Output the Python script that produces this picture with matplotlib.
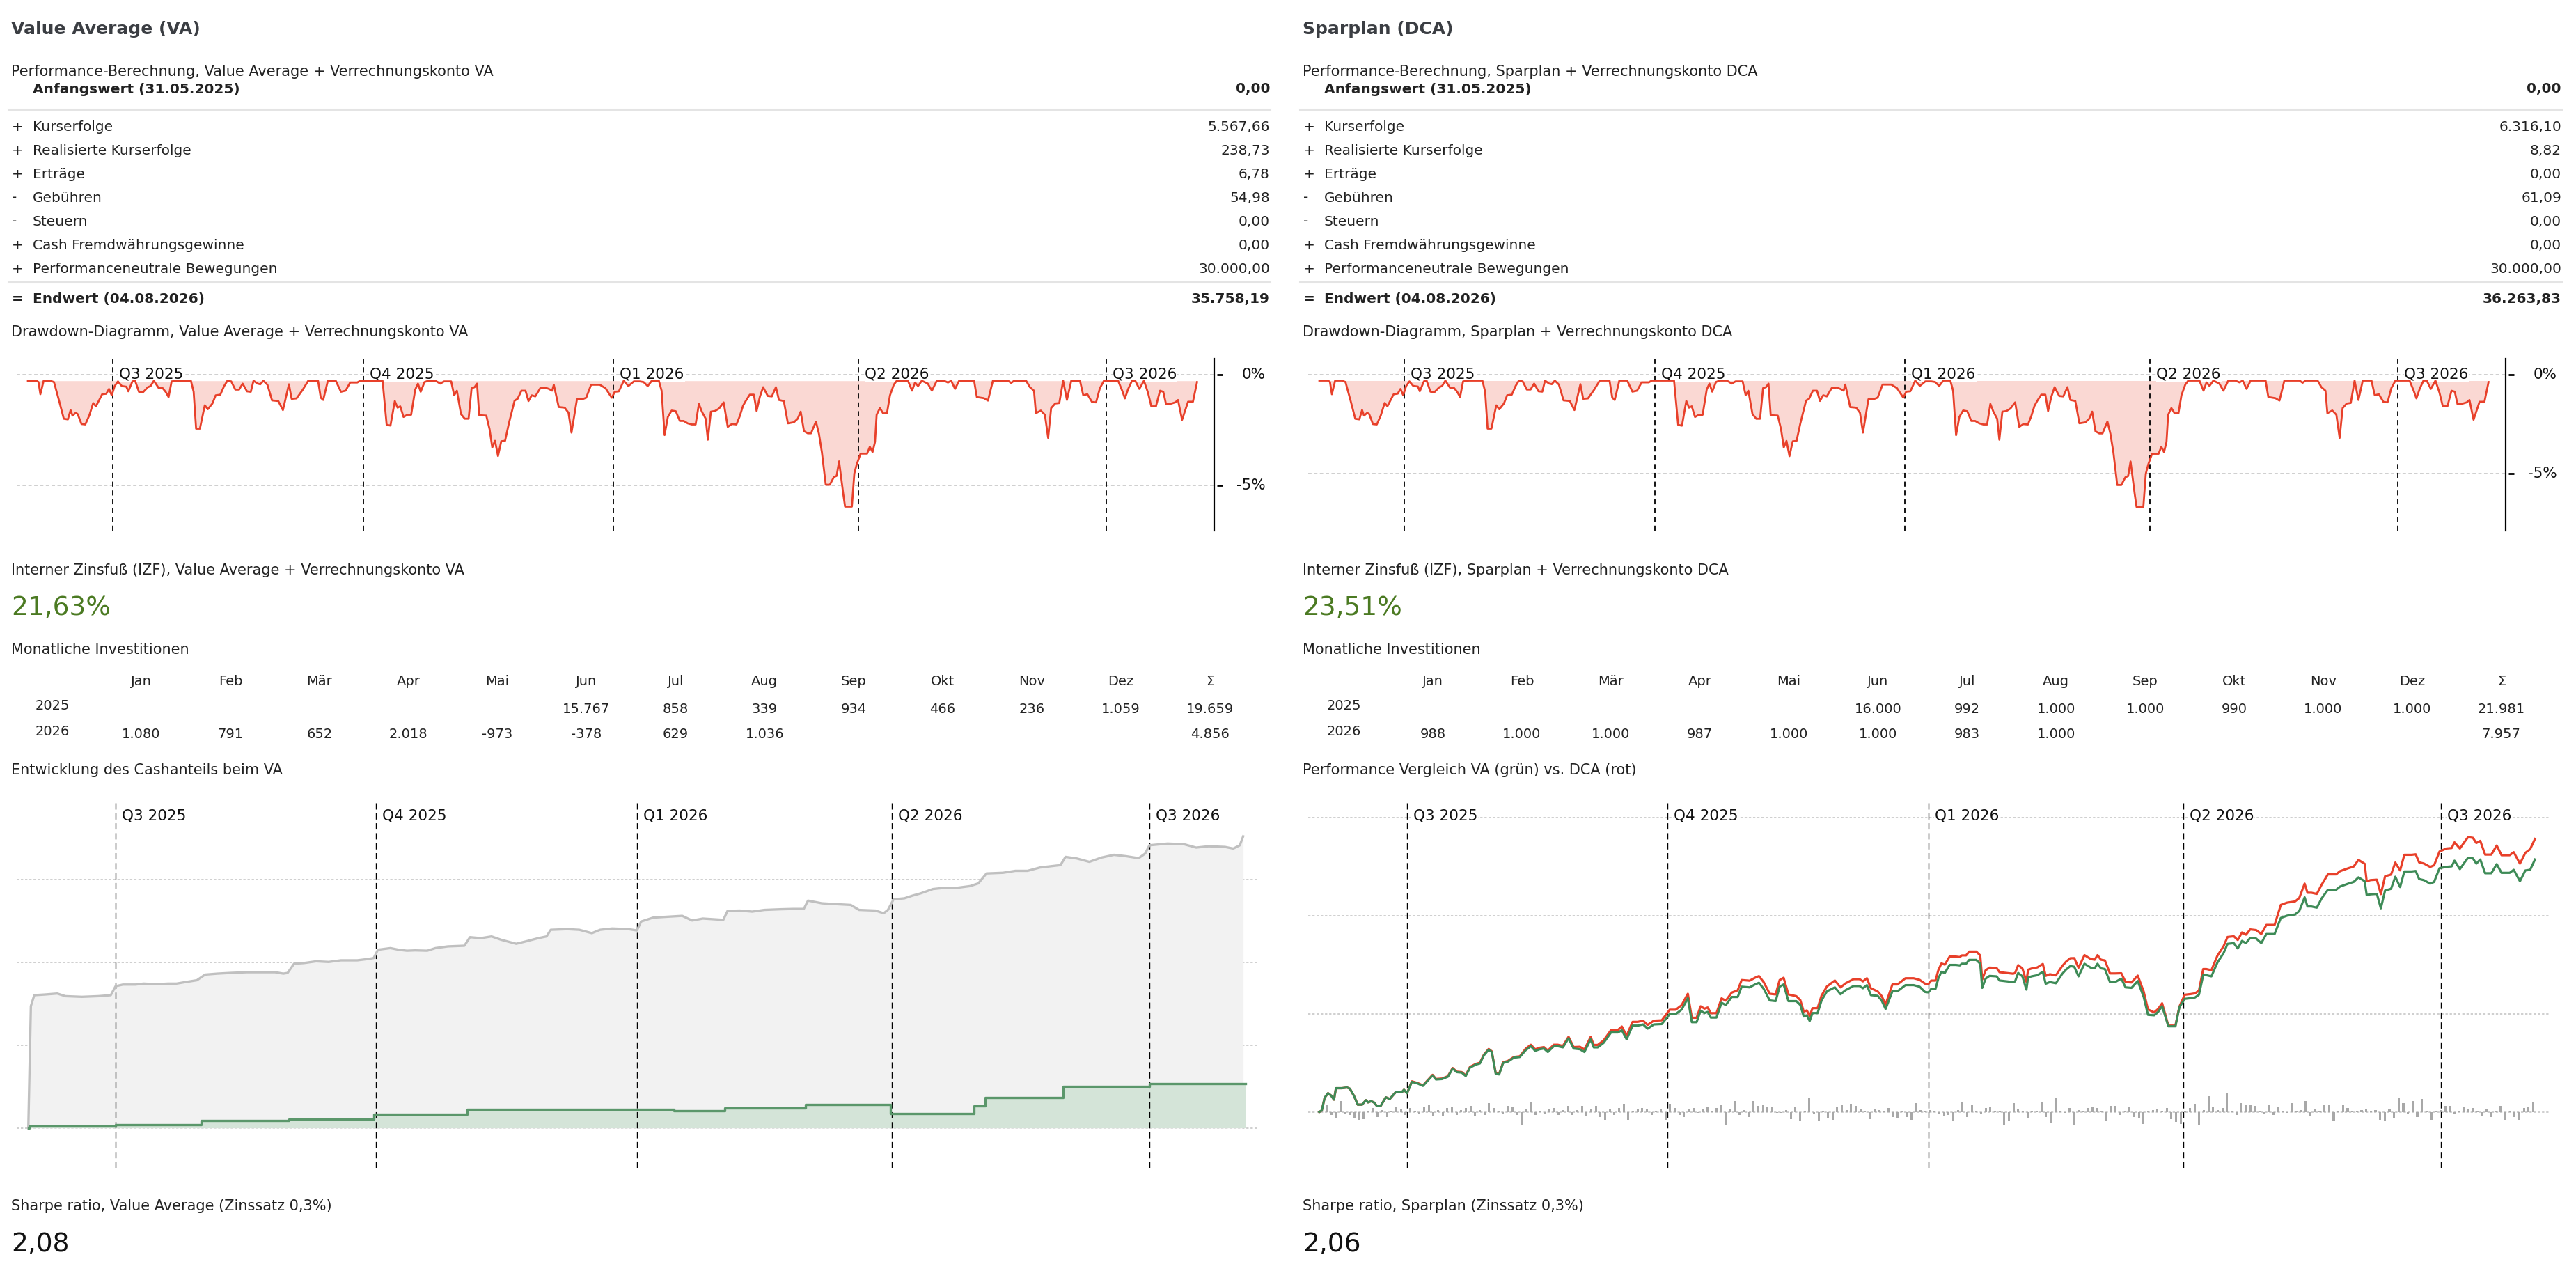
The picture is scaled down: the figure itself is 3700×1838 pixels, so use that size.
import matplotlib
matplotlib.use("Agg")
import matplotlib.pyplot as plt
import matplotlib.dates as mdates
import numpy as np
import pandas as pd

plt.rcParams["font.family"] = ["DejaVu Sans"]

# ---------------- data ----------------
ref_day = pd.Timestamp("2025-07-01")   # day offsets below count from here
quarters = ["2025-07-01", "2025-10-01", "2026-01-01", "2026-04-01", "2026-07-01"]
quarter_labels = ["Q3 2025", "Q4 2025", "Q1 2026", "Q2 2026", "Q3 2026"]

row_labels = ["Kurserfolge", "Realisierte Kurserfolge", "Erträge", "Gebühren", "Steuern",
              "Cash Fremdwährungsgewinne", "Performanceneutrale Bewegungen"]
row_signs = ["+", "+", "+", "-", "-", "+", "+"]
va_rows = ["5.567,66", "238,73", "6,78", "54,98", "0,00", "0,00", "30.000,00"]
dca_rows = ["6.316,10", "8,82", "0,00", "61,09", "0,00", "0,00", "30.000,00"]
va_start, va_end = "0,00", "35.758,19"
dca_start, dca_end = "0,00", "36.263,83"
va_irr, dca_irr = "21,63%", "23,51%"
va_sharpe, dca_sharpe = "2,08", "2,06"

months = ["Jan", "Feb", "Mär", "Apr", "Mai", "Jun", "Jul", "Aug", "Sep", "Okt", "Nov", "Dez", "Σ"]
years = ["2025", "2026"]
va_invest = [["", "", "", "", "", "15.767", "858", "339", "934", "466", "236", "1.059", "19.659"],
             ["1.080", "791", "652", "2.018", "-973", "-378", "629", "1.036", "", "", "", "", "4.856"]]
dca_invest = [["", "", "", "", "", "16.000", "992", "1.000", "1.000", "990", "1.000", "1.000", "21.981"],
              ["988", "1.000", "1.000", "987", "1.000", "1.000", "983", "1.000", "", "", "", "", "7.957"]]

# drawdown (%), both portfolios on the same days
dd_days = [-31.2, -28.0, -27.3, -26.6, -25.4, -23.0, -21.6, -19.7, -18.0, -16.5,
           -15.5, -14.8, -13.6, -12.9, -11.5, -10.1, -8.6, -7.2, -6.2, -5.0,
           -3.9, -2.4, -1.4, -0.4, 0.7, 1.9, 3.3, 5.0, 5.7, 7.2,
           8.2, 9.6, 11.1, 12.9, 13.9, 15.1, 16.8, 18.2, 19.4, 20.5,
           21.6, 23.7, 28.7, 29.7, 30.6, 32.0, 33.8, 34.9, 36.6, 37.8,
           39.5, 40.9, 42.1, 43.5, 45.0, 46.4, 47.7, 49.3, 50.7, 51.7,
           53.2, 54.2, 55.3, 56.8, 58.5, 60.8, 62.5, 64.7, 65.7, 67.5,
           69.7, 71.8, 75.4, 76.4, 77.3, 79.0, 81.9, 83.8, 85.5, 87.2,
           89.8, 90.9, 99.1, 100.6, 102.0, 103.6, 104.6, 105.6, 106.8, 108.2,
           109.6, 111.1, 112.1, 113.1, 114.5, 115.9, 118.5, 120.3, 121.7, 124.3,
           125.4, 126.4, 127.9, 129.3, 130.7, 131.8, 132.9, 133.8, 134.6, 137.2,
           138.4, 139.4, 140.4, 141.5, 142.7, 144.1, 145.5, 147.6, 148.7, 150.1,
           151.6, 152.7, 153.9, 155.2, 157.0, 158.8, 160.2, 161.4, 162.0, 163.8,
           166.0, 167.4, 168.5, 170.5, 172.4, 173.9, 175.7, 178.9, 181.0,
           183.3, 184.4, 185.9, 187.7, 189.4, 191.4, 193.6, 195.0, 196.5, 198.0,
           200.6, 201.6, 202.7, 203.9, 205.3, 206.8, 208.3, 209.7, 211.2, 212.7,
           214.1, 215.3, 216.4, 217.8, 218.6, 219.7, 221.2, 222.7, 224.4, 225.9,
           227.4, 229.1, 230.3, 231.5, 232.5, 234.0, 235.5, 236.5, 237.7, 238.9,
           240.6, 242.1, 243.6, 244.7, 246.5, 248.0, 250.2, 251.6, 252.7, 253.9,
           255.3, 256.5, 258.3, 259.4, 260.5, 261.9, 263.4, 264.9, 265.9, 266.8,
           268.3, 269.0, 271.5, 272.4, 273.3, 274.7, 277.1, 278.1, 279.1, 280.0,
           280.6, 281.8, 283.0, 284.4, 285.5, 286.9, 288.0, 292.1, 293.6, 294.7,
           295.8, 297.2, 299.4, 300.9, 302.7, 305.3, 306.8, 308.0, 309.4, 310.9,
           316.4, 317.4, 320.0, 321.5, 323.3, 328.9, 330.0, 331.1, 335.5, 336.9,
           338.4, 339.1, 340.9, 342.4, 343.6, 344.7, 346.2, 347.7, 349.1, 350.5,
           352.1, 355.3, 356.5, 358.0, 359.7, 361.2, 362.6, 364.1, 369.3, 370.8,
           371.8, 373.0, 374.4, 375.6, 377.1, 378.8, 380.3, 381.5, 383.2, 384.7,
           385.9, 386.9, 388.4, 390.3, 391.3, 392.8, 395.0, 396.8, 398.3]
va_drawdown = [-0.27, -0.27, -0.33, -0.88, -0.27, -0.27, -0.33, -1.19, -1.99, -2.02,
               -1.60, -1.85, -1.72, -1.78, -2.23, -2.25, -1.83, -1.28, -1.43, -1.14,
               -0.88, -0.86, -0.64, -0.93, -0.51, -0.30, -0.51, -0.54, -0.75, -0.30,
               -0.27, -0.77, -0.79, -0.56, -0.51, -0.27, -0.59, -0.59, -0.77, -1.01,
               -0.30, -0.27, -0.27, -0.77, -2.44, -2.44, -1.38, -1.56, -1.30, -0.93,
               -0.90, -0.51, -0.27, -0.30, -0.67, -0.67, -0.40, -0.75, -0.77, -0.27,
               -0.40, -0.43, -0.27, -0.45, -1.16, -1.19, -1.60, -0.43, -1.09, -1.07,
               -0.69, -0.27, -0.27, -1.04, -1.14, -0.27, -0.27, -0.77, -0.72, -0.35,
               -0.35, -0.27, -0.27, -2.27, -2.30, -1.19, -1.49, -1.43, -1.91, -1.81,
               -1.81, -0.67, -0.40, -0.77, -0.33, -0.27, -0.27, -0.40, -0.30, -0.30,
               -0.93, -0.72, -1.78, -1.99, -1.99, -0.61, -0.56, -0.40, -1.83, -1.85,
               -2.46, -3.29, -2.99, -3.68, -3.01, -2.99, -2.20, -1.17, -1.09, -0.72,
               -0.72, -1.19, -0.93, -0.98, -0.61, -0.58, -0.64, -0.72, -0.45, -1.46,
               -1.49, -1.72, -2.62, -1.11, -1.11, -1.04, -0.45, -0.45, -0.61,
               -1.04, -0.77, -0.75, -0.27, -0.51, -0.30, -0.30, -0.33, -0.51, -0.27,
               -0.27, -0.72, -2.73, -1.91, -1.62, -1.65, -2.09, -2.09, -2.20, -2.25,
               -2.25, -1.32, -1.67, -1.99, -2.94, -1.67, -1.64, -1.53, -1.25, -2.36,
               -2.23, -2.25, -1.88, -1.41, -1.19, -0.90, -0.90, -1.64, -1.00, -0.56,
               -0.96, -0.98, -0.56, -1.14, -1.19, -2.20, -2.15, -1.99, -1.67, -2.55,
               -2.65, -2.65, -2.12, -2.67, -3.52, -4.98, -4.98, -4.63, -4.58, -3.92,
               -5.37, -5.97, -5.97, -4.47, -4.05, -3.57, -3.57, -3.26, -3.50, -3.04,
               -1.81, -1.51, -1.75, -1.74, -0.93, -0.45, -0.27, -0.27, -0.72, -0.35,
               -0.51, -0.27, -0.40, -0.72, -0.27, -0.27, -0.35, -0.27, -0.64, -0.27,
               -0.27, -1.01, -1.06, -1.17, -0.27, -0.27, -0.37, -0.27, -0.27, -0.56,
               -0.72, -1.74, -1.62, -1.81, -2.86, -1.51, -1.30, -1.28, -0.27, -1.14,
               -0.27, -0.27, -0.93, -0.88, -1.23, -1.25, -0.61, -0.27, -0.27, -0.72,
               -1.07, -0.64, -0.27, -0.27, -0.64, -0.27, -0.82, -1.43, -1.43, -0.72,
               -0.77, -1.33, -1.32, -1.25, -1.14, -2.04, -1.22, -1.22, -0.33]
dca_drawdown = [-0.30, -0.30, -0.37, -0.99, -0.30, -0.30, -0.37, -1.33, -2.23, -2.26,
                -1.79, -2.07, -1.93, -1.99, -2.50, -2.52, -2.05, -1.43, -1.60, -1.28,
                -0.99, -0.96, -0.72, -1.04, -0.57, -0.34, -0.57, -0.60, -0.84, -0.34,
                -0.30, -0.86, -0.88, -0.63, -0.57, -0.30, -0.66, -0.66, -0.86, -1.13,
                -0.34, -0.30, -0.30, -0.86, -2.73, -2.73, -1.55, -1.75, -1.46, -1.04,
                -1.01, -0.57, -0.30, -0.34, -0.75, -0.75, -0.45, -0.84, -0.86, -0.30,
                -0.45, -0.48, -0.30, -0.50, -1.30, -1.33, -1.79, -0.48, -1.22, -1.20,
                -0.77, -0.30, -0.30, -1.16, -1.28, -0.30, -0.30, -0.86, -0.81, -0.39,
                -0.39, -0.30, -0.30, -2.54, -2.58, -1.33, -1.67, -1.60, -2.14, -2.03,
                -2.03, -0.75, -0.45, -0.86, -0.37, -0.30, -0.30, -0.45, -0.34, -0.34,
                -1.04, -0.81, -1.99, -2.23, -2.23, -0.68, -0.63, -0.45, -2.05, -2.07,
                -2.76, -3.68, -3.35, -4.12, -3.37, -3.35, -2.46, -1.31, -1.22, -0.81,
                -0.81, -1.33, -1.04, -1.10, -0.68, -0.65, -0.72, -0.81, -0.50, -1.64,
                -1.67, -1.93, -2.93, -1.24, -1.24, -1.16, -0.50, -0.50, -0.68,
                -1.16, -0.86, -0.84, -0.30, -0.57, -0.34, -0.34, -0.37, -0.57, -0.30,
                -0.30, -0.81, -3.06, -2.14, -1.81, -1.85, -2.34, -2.34, -2.46, -2.52,
                -2.52, -1.48, -1.87, -2.23, -3.29, -1.87, -1.84, -1.71, -1.40, -2.64,
                -2.50, -2.52, -2.11, -1.58, -1.33, -1.01, -1.01, -1.84, -1.12, -0.63,
                -1.08, -1.10, -0.63, -1.28, -1.33, -2.46, -2.41, -2.23, -1.87, -2.86,
                -2.97, -2.97, -2.37, -2.99, -3.94, -5.58, -5.58, -5.19, -5.13, -4.39,
                -6.01, -6.69, -6.69, -5.01, -4.54, -4.00, -4.00, -3.65, -3.92, -3.40,
                -2.03, -1.69, -1.96, -1.95, -1.04, -0.50, -0.30, -0.30, -0.81, -0.39,
                -0.57, -0.30, -0.45, -0.81, -0.30, -0.30, -0.39, -0.30, -0.72, -0.30,
                -0.30, -1.13, -1.19, -1.31, -0.30, -0.30, -0.41, -0.30, -0.30, -0.63,
                -0.81, -1.95, -1.81, -2.03, -3.20, -1.69, -1.46, -1.43, -0.30, -1.28,
                -0.30, -0.30, -1.04, -0.99, -1.38, -1.40, -0.68, -0.30, -0.30, -0.81,
                -1.20, -0.72, -0.30, -0.30, -0.72, -0.30, -0.92, -1.60, -1.60, -0.81,
                -0.86, -1.49, -1.48, -1.40, -1.28, -2.28, -1.37, -1.37, -0.37]

# VA: total value and cash part (thousand EUR)
cash_days = [-30.8, -29.9, -28.7, -25.0, -20.6, -17.7, -11.9, -6.1, -1.7, 0.0,
             2.6, 7.0, 9.9, 14.2, 18.6, 21.5, 24.4, 28.7, 31.6, 36.0,
             40.3, 46.2, 56.3, 59.2, 60.7, 63.0, 66.5, 70.8, 75.2, 79.5,
             85.3, 89.1, 91.1, 92.6, 97.0, 99.9, 102.8, 105.7, 110.0, 112.9,
             117.3, 123.1, 125.1, 128.9, 132.7, 136.1, 141.4, 144.8, 149.2, 152.1,
             153.6, 159.4, 163.7, 168.1, 171.0, 175.3, 181.1, 184.0, 185.5, 189.8,
             195.6, 200.0, 203.5, 207.3, 214.5, 216.0, 220.3, 224.7, 229.0, 234.8,
             239.2, 242.9, 244.4, 249.3, 255.2, 259.5, 262.4, 268.2, 271.1, 272.6,
             274.6, 278.4, 281.3, 284.2, 288.5, 292.9, 297.2, 301.6, 304.5, 307.4,
             313.2, 317.6, 321.9, 326.3, 333.5, 335.3, 339.3, 343.7, 348.0, 352.4,
             356.7, 361.1, 363.4, 364.9, 371.3, 377.1, 381.4, 385.8, 391.6, 394.5, 396.8, 398.0]
va_total_k = [0.0, 14.96, 16.30, 16.38, 16.50, 16.18, 16.10, 16.18, 16.30, 17.40,
              17.60, 17.60, 17.72, 17.64, 17.72, 17.72, 17.89, 18.13, 18.82, 18.94,
              19.02, 19.11, 19.11, 18.94, 19.02, 20.16, 20.24, 20.45, 20.37, 20.57,
              20.57, 20.73, 20.85, 21.87, 22.07, 21.87, 21.75, 21.79, 21.75, 22.07,
              22.28, 22.36, 23.41, 23.29, 23.50, 23.09, 22.60, 22.89, 23.29, 23.50,
              24.31, 24.39, 24.31, 23.90, 24.31, 24.47, 24.39, 24.23, 25.33, 25.81,
              25.93, 26.02, 25.45, 25.69, 25.53, 26.63, 26.67, 26.54, 26.75, 26.83,
              26.87, 26.87, 27.89, 27.56, 27.44, 27.36, 26.75, 26.67, 26.34, 26.75,
              28.05, 28.17, 28.50, 28.78, 29.31, 29.47, 29.47, 29.67, 30.00, 31.22,
              31.30, 31.54, 31.54, 31.95, 32.24, 33.25, 33.05, 32.64, 33.17, 33.50,
              33.33, 33.09, 33.66, 34.67, 34.88, 34.80, 34.39, 34.55, 34.47, 34.27, 34.67, 35.77]
cash_step_days = [-30.8, -30.4, 0.0, 30.2, 61.2, 91.1, 124.0, 197.0, 215.0, 243.5,
                  273.4, 303.0, 306.8, 334.4, 364.9, 398.8]
va_cash_k = [0.0, 0.24, 0.45, 0.93, 1.10, 1.67, 2.32, 2.11, 2.48, 2.89,
             1.83, 2.76, 3.74, 5.12, 5.49, 5.49]

# performance comparison (%)
perf_days = [-31.0, -30.1, -29.1, -27.9, -26.8, -25.8, -25.1, -23.0, -21.2, -20.2,
             -18.8, -17.4, -15.9, -14.5, -13.8, -12.7, -11.7, -10.7, -9.3, -7.5,
             -6.1, -4.0, -1.8, -1.1, 0.0, 1.7, 3.8, 5.6, 7.3, 9.0,
             10.2, 12.3, 14.4, 16.1, 17.5, 19.3, 20.7, 22.2, 24.3, 25.7,
             27.1, 28.8, 29.9, 31.3, 32.5, 33.9, 35.6, 37.7, 39.8, 41.9,
             43.7, 45.2, 46.8, 48.3, 49.7, 51.8, 53.2, 55.0, 57.0, 58.8,
             61.0, 62.6, 64.8, 65.9, 67.3, 69.4, 72.0, 74.4, 75.8, 77.5,
             79.6, 81.4, 83.3, 84.9, 87.1, 89.9, 92.7, 94.8, 96.9, 99.1,
             100.5, 102.2, 103.6, 105.0, 106.1, 107.2, 109.2, 111.0, 112.5, 114.6,
             116.7, 118.1, 120.9, 122.8, 124.2, 125.9, 128.0, 130.1, 131.5, 132.9,
             134.6, 137.4, 138.8, 140.0, 141.1, 142.1, 143.1, 144.9, 146.3, 148.2,
             151.0, 153.0, 154.8, 157.6, 159.7, 160.9, 162.3, 163.7, 166.1, 167.5,
             168.9, 171.3, 173.1, 175.9, 178.8, 180.9,
             182.8, 184.0, 185.0, 186.5, 187.5, 188.6, 189.8, 191.5, 193.7, 195.1,
             195.8, 197.3, 198.4, 200.9, 202.3, 203.0, 204.2, 205.6, 208.1, 209.1,
             211.7, 213.9, 214.6, 215.7, 217.2, 218.6, 219.2, 220.4, 222.5, 224.4,
             225.4, 226.9, 229.0, 231.2, 232.6, 234.1, 235.5, 237.0, 239.1, 241.3,
             242.7, 243.7, 244.9, 246.3, 248.1, 249.9, 252.1, 253.6, 255.7, 257.9,
             260.0, 261.5, 263.7, 265.1, 266.5, 268.7, 271.2, 272.6, 274.5, 276.6,
             278.1, 279.5, 281.0, 282.1, 283.9, 286.0, 288.2, 289.6, 291.8, 293.2,
             294.7, 296.1, 297.6, 299.7, 301.5, 303.3, 306.2, 308.4, 310.6, 313.4,
             314.9, 316.8, 317.8, 319.2, 321.1, 322.8, 325.0, 327.9, 329.3, 332.2,
             334.1, 335.8, 338.0, 338.7, 340.1, 342.3, 343.7, 345.2, 347.3, 348.8,
             350.5, 352.0, 354.6, 356.0, 357.2, 358.9, 361.1, 362.5, 364.4, 366.8,
             368.7, 369.7, 371.6, 373.3, 374.5, 376.2, 377.4, 378.8, 380.5, 382.7,
             384.6, 386.3, 389.2, 390.6, 392.8, 394.7, 396.4, 398.1]
va_perf = [0.00, 0.16, 1.45, 1.92, 1.68, 1.26, 2.43, 2.43, 2.50, 2.38,
           1.68, 0.75, 0.75, 1.21, 0.98, 1.10, 0.98, 0.63, 0.63, 1.50,
           1.33, 2.03, 2.03, 2.27, 1.92, 3.08, 2.90, 2.66, 3.20, 3.74,
           3.32, 3.36, 3.60, 4.44, 4.07, 4.02, 3.67, 4.53, 4.84, 4.95,
           5.77, 6.36, 6.12, 3.90, 3.83, 5.00, 5.14, 5.54, 5.61, 6.31,
           6.71, 6.24, 6.40, 6.47, 6.12, 6.71, 6.71, 6.59, 7.52, 6.47,
           6.40, 6.12, 7.41, 6.59, 6.59, 7.06, 8.11, 8.11, 8.34, 7.41,
           8.81, 8.81, 8.93, 8.50, 8.93, 8.97, 9.98, 9.98, 10.44, 11.61,
           9.16, 9.16, 10.33, 10.09, 10.21, 9.63, 9.63, 11.14, 10.91, 11.73,
           11.73, 12.78, 12.71, 13.01, 13.18, 12.55, 11.38, 11.31, 12.78, 13.01,
           11.31, 11.31, 10.91, 9.74, 9.86, 9.28, 10.09, 10.09, 11.38, 12.31,
           12.71, 12.01, 12.43, 12.85, 12.85, 12.62, 12.94, 11.92, 11.85, 11.38,
           10.51, 12.31, 12.31, 12.94, 12.94, 12.78,
           12.24, 12.20, 12.55, 12.55, 13.60, 14.30, 14.18, 15.00, 15.00, 14.95,
           15.12, 15.12, 15.51, 15.51, 15.12, 12.66, 13.60, 13.88, 13.83, 13.41,
           13.32, 13.25, 13.32, 14.18, 13.83, 12.48, 13.71, 13.83, 13.95, 14.30,
           13.08, 13.25, 13.13, 14.07, 14.53, 14.88, 14.81, 13.83, 15.12, 14.72,
           14.65, 15.12, 14.65, 14.58, 13.25, 13.25, 13.60, 12.71, 12.66, 13.36,
           11.73, 9.91, 9.86, 10.21, 10.79, 8.74, 8.74, 10.68, 11.54, 11.61,
           11.68, 11.96, 13.95, 13.95, 13.83, 15.23, 16.21, 17.15, 17.22, 16.68,
           17.45, 17.22, 17.76, 17.69, 17.22, 18.15, 18.15, 19.79, 20.02, 20.14,
           20.49, 21.89, 20.96, 20.96, 20.84, 21.78, 22.66, 22.66, 22.99, 23.29,
           23.46, 23.93, 23.53, 22.13, 22.20, 22.24, 20.77, 22.59, 22.76, 23.99,
           22.94, 24.53, 24.53, 24.58, 23.76, 23.64, 23.29, 23.46, 24.86, 25.00,
           25.05, 25.63, 24.77, 25.47, 25.93, 25.86, 25.33, 25.75, 24.35, 24.35,
           25.28, 24.39, 24.39, 24.70, 23.53, 24.63, 24.70, 25.75]
dca_perf = [0.00, 0.16, 1.45, 1.92, 1.68, 1.26, 2.43, 2.43, 2.50, 2.38,
            1.68, 0.75, 0.75, 1.21, 0.98, 1.10, 0.98, 0.63, 0.63, 1.50,
            1.33, 2.03, 2.03, 2.27, 1.92, 3.13, 2.95, 2.71, 3.25, 3.79,
            3.37, 3.41, 3.65, 4.49, 4.12, 4.07, 3.74, 4.60, 4.91, 5.02,
            5.84, 6.43, 6.19, 3.97, 3.90, 5.07, 5.21, 5.61, 5.68, 6.46,
            6.86, 6.39, 6.55, 6.62, 6.27, 6.86, 6.86, 6.74, 7.67, 6.62,
            6.65, 6.37, 7.66, 6.84, 6.84, 7.31, 8.36, 8.36, 8.72, 7.79,
            9.19, 9.19, 9.31, 8.88, 9.31, 9.35, 10.43, 10.43, 10.89, 12.06,
            9.61, 9.61, 10.78, 10.54, 10.66, 10.08, 10.08, 11.59, 11.36, 12.18,
            12.41, 13.46, 13.39, 13.69, 13.86, 13.23, 12.06, 11.99, 13.46, 13.69,
            11.99, 11.81, 11.41, 10.24, 10.36, 9.78, 10.59, 10.59, 11.88, 12.81,
            13.41, 12.71, 13.13, 13.55, 13.55, 13.32, 13.64, 12.62, 12.30, 11.83,
            10.96, 13.01, 13.01, 13.64, 13.64, 13.48,
            13.09, 13.05, 13.40, 13.40, 14.45, 15.15, 15.03, 15.85, 15.85, 15.80,
            15.97, 15.97, 16.36, 16.36, 15.97, 13.51, 14.45, 14.73, 14.68, 14.26,
            14.17, 14.10, 14.17, 14.98, 14.63, 13.28, 14.51, 14.63, 14.75, 15.10,
            13.88, 14.05, 13.93, 14.87, 15.33, 15.68, 15.69, 14.71, 16.00, 15.60,
            15.53, 16.00, 15.53, 15.46, 14.13, 14.13, 14.15, 13.26, 13.21, 13.91,
            12.28, 10.46, 10.16, 10.51, 11.09, 8.81, 8.81, 10.75, 11.96, 12.03,
            12.10, 12.38, 14.58, 14.58, 14.46, 15.93, 16.91, 17.85, 17.92, 17.54,
            18.31, 18.08, 18.62, 18.55, 18.15, 19.08, 19.08, 21.12, 21.35, 21.47,
            21.82, 23.29, 22.36, 22.36, 22.24, 23.18, 24.23, 24.23, 24.56, 24.86,
            25.03, 25.71, 25.31, 23.53, 23.65, 23.69, 22.22, 24.04, 24.21, 25.44,
            24.64, 26.23, 26.23, 26.28, 25.46, 25.34, 24.99, 25.16, 26.56, 26.87,
            26.92, 27.50, 26.87, 27.57, 28.03, 27.96, 27.43, 27.65, 26.25, 26.25,
            27.18, 26.19, 26.19, 26.50, 25.33, 26.43, 26.80, 27.85]
# daily difference bars (%), in time order from first to last day
diff_bars = [0.6, 0.7, -0.3, -0.6, 1.1, -0.2, -0.3, -0.6, -0.8, -0.7, 0.1, 0.4, -0.5, 0.2, -0.5,
             0.1, 0.5, 0.3, -0.3, 0.4, 0.1, -0.2, 0.5, 0.7, -0.4, 0.2, -0.4, 0.4, 0.5, -0.3,
             0.2, 0.4, 0.6, -0.4, 0.2, -0.3, 0.9, 0.4, 0.1, -0.2, 0.6, 0.5, -0.3, -1.3, 0.3,
             1.0, -0.3, 0.1, -0.2, 0.3, 0.4, -0.3, 0.2, 0.6, -0.3, 0.2, 0.6, -0.4, 0.3, 0.6,
             -0.5, -0.8, 0.3, -0.3, 0.4, 0.8, -0.8, 0.1, 0.3, 0.4, 0.3, -0.3, 0.1, 0.3, -0.8,
             0.8, 0.4, -0.3, -0.5, 0.3, 0.4, -0.1, 0.3, 0.5, 0.1, 0.4, 0.7, -1.3, 0.3, 1.1,
             -0.3, 0.2, -0.5, 1.1, 0.6, 0.7, 0.5, 0.5, -0.1, -0.1, 0.2, -0.7, 0.5, -0.9, 0.1,
             1.5, -0.2, -0.9, 0.1, -0.6, -0.8, 0.5, 0.7, 0.2, 0.8, 0.6, 0.3, 0.1, -0.7, 0.3,
             0.2, 0.1, 0.4, -0.5, -0.6, 0.1, -0.5, -0.8, 0.9, 0.2, 0.1, 0.2, 0.1, -0.2, -0.4,
             -0.3, -0.9, 0.2, 1.0, -0.5, 0.7, 0.1, -0.2, 0.4, 0.5, 0.1, 0.1, -1.3, -0.9, 0.9,
             0.3, 0.1, -0.6, 0.1, 0.1, 1.0, -0.5, -1.1, 1.4, 0.1, -0.1, 0.4, -1.3, 0.2, 0.1,
             0.4, 0.5, 0.4, 0.1, -0.9, 0.6, 0.6, -0.3, 0.1, 0.5, -0.5, -0.6, -1.2, 0.1, 0.2,
             0.3, 0.1, 0.4, -0.7, -1.0, -1.2, 0.1, 0.4, 0.8, -1.3, 0.2, 1.6, 0.5, 0.2, 0.4,
             1.9, 0.1, -0.3, 0.9, 0.7, 0.7, 0.6, 0.1, -0.2, 0.7, -0.3, 0.5, 0.1, -0.1, 0.9,
             0.1, 0.2, 1.1, -0.4, 0.3, 0.1, 0.7, 0.7, -0.9, 0.1, 0.7, 0.4, 0.1, 0.1, 0.2,
             0.3, 0.1, 0.2, -0.8, -0.9, 0.3, -0.6, 1.4, 0.9, -0.2, 1.1, -0.5, 1.3, 0.1, -0.8,
             0.1, 0.2, 0.6, 0.6, -0.2, 0.1, 0.5, 0.3, 0.4, 0.1, -0.4, 0.3, -0.5, 0.1, 0.6,
             -0.8, 0.1, -0.5, -0.8, 0.4, 0.5, 1.0]
bar_first_day, bar_last_day = -30.0, 397.5

# ---------------- layout helpers (pixel units of a 3700 x 1838 canvas) ----------------
W, H = 3700, 1838
fig = plt.figure(figsize=(W / 100, H / 100), dpi=100)
fig.patch.set_facecolor("white")

TXT = "#222222"
RED = "#e8402a"
PINK = "#fad8d3"
GRID = "#cfcfcf"


def to_dates(days):
    return ref_day + pd.to_timedelta(np.asarray(days, dtype=float), unit="D")


def put(x, y, s, size=15, weight="normal", color=TXT, ha="left"):
    fig.text(x / W, 1 - y / H, s, fontsize=size, fontweight=weight, color=color,
             ha=ha, va="center")


def hline(x0, x1, y):
    fig.add_artist(plt.Line2D([x0 / W, x1 / W], [1 - y / H, 1 - y / H],
                              color="#e4e4e4", lw=2.2))


def make_ax(x0, x1, y0, y1):
    ax = fig.add_axes([x0 / W, 1 - y1 / H, (x1 - x0) / W, (y1 - y0) / H])
    for s in ax.spines.values():
        s.set_visible(False)
    ax.set_facecolor("none")
    return ax


def no_ticks(ax):
    ax.tick_params(left=False, labelleft=False, right=False, labelright=False,
                   bottom=False, labelbottom=False)


def grid_at(ax, levels, dash):
    for g in levels:
        ax.axhline(g, color=GRID, lw=1.4, ls=(0, dash), zorder=0)


def quarter_marks(ax, label_y, lw, dash):
    for q, lbl in zip(quarters, quarter_labels):
        x = mdates.date2num(pd.Timestamp(q))
        ax.axvline(x, color="black", lw=lw, ls=(0, dash), zorder=2)
        ax.annotate(lbl, xy=(x, label_y), xycoords=("data", "axes fraction"),
                    xytext=(6.5, 0), textcoords="offset points", ha="left", va="center",
                    fontsize=15.5, color="#111111", zorder=2.5,
                    bbox=dict(fc="white", ec="none", pad=0.4))


def drawdown_chart(ox, values, ylim):
    ax = make_ax(ox + 8, ox + 1728, 515, 762)
    d = to_dates(dd_days)
    v = np.array(values)
    ax.fill_between(d, v, v.max(), color=PINK, lw=0, zorder=1)
    ax.plot(d, v, color=RED, lw=2.0, zorder=3, solid_joinstyle="round")
    grid_at(ax, (0, -5), (2.5, 1.8))
    for g in (0, -5):
        ax.plot([1.0023, 1.007], [g, g], transform=ax.get_yaxis_transform(),
                color="black", lw=2.0, clip_on=False, solid_capstyle="butt")
        ax.text(1.043, g, f"{g}%", transform=ax.get_yaxis_transform(),
                ha="right", va="center", fontsize=15.5, color="#111111")
    ax.spines["right"].set_visible(True)
    ax.spines["right"].set_linewidth(1.6)
    ax.set_ylim(*ylim)
    ax.set_xlim(ref_day + pd.Timedelta(days=-35.3), ref_day + pd.Timedelta(days=404.6))
    no_ticks(ax)
    quarter_marks(ax, 0.907, 1.3, (4, 3))
    return ax


def lower_ax(ox):
    ax = make_ax(ox + 8, ox + 1790, 1149, 1677)
    ax.set_xlim(ref_day + pd.Timedelta(days=-34.9), ref_day + pd.Timedelta(days=403.0))
    return ax


# ---------------- two panels ----------------
panels = [
    dict(ox=16, title="Value Average (VA)", name="Value Average + Verrechnungskonto VA",
         rows=va_rows, start=va_start, end=va_end, irr=va_irr, invest=va_invest,
         sharpe_name="Value Average", sharpe=va_sharpe, dd=va_drawdown, ylim=(-7.06, 0.73),
         chart_title="Entwicklung des Cashanteils beim VA"),
    dict(ox=1871, title="Sparplan (DCA)", name="Sparplan + Verrechnungskonto DCA",
         rows=dca_rows, start=dca_start, end=dca_end, irr=dca_irr, invest=dca_invest,
         sharpe_name="Sparplan", sharpe=dca_sharpe, dd=dca_drawdown, ylim=(-7.89, 0.81),
         chart_title="Performance Vergleich VA (grün) vs. DCA (rot)"),
]

for p in panels:
    ox = p["ox"]
    put(ox, 42, p["title"], size=18, weight="bold", color="#3b3e43")
    put(ox, 103, "Performance-Berechnung, " + p["name"])
    put(ox + 31, 128, "Anfangswert (31.05.2025)", size=14.5, weight="bold")
    put(ox + 1808, 128, p["start"], size=14.5, weight="bold", ha="right")
    hline(ox - 4, ox + 1808, 157)
    for i, (sg, lab, val) in enumerate(zip(row_signs, row_labels, p["rows"])):
        y = 182 + 34 * i
        put(ox + 1, y, sg, size=14.5)
        put(ox + 31, y, lab, size=14.5)
        put(ox + 1808, y, val, size=14.5, ha="right")
    hline(ox - 4, ox + 1808, 405)
    put(ox + 1, 429, "=", size=14.5, weight="bold")
    put(ox + 31, 429, "Endwert (04.08.2026)", size=14.5, weight="bold")
    put(ox + 1808, 429, p["end"], size=14.5, weight="bold", ha="right")

    put(ox, 477, "Drawdown-Diagramm, " + p["name"])
    drawdown_chart(ox, p["dd"], p["ylim"])

    put(ox, 819, "Interner Zinsfuß (IZF), " + p["name"])
    put(ox, 873, p["irr"], size=27, color="#4b7a22")

    put(ox, 933, "Monatliche Investitionen")
    for j, m in enumerate(months):
        put(ox + 187 + 127.9 * j, 978, m, size=14, ha="center")
    for r, yr in enumerate(years):
        put(ox + 59, 1013 + 37 * r, yr, size=14, ha="center")
        for j, val in enumerate(p["invest"][r]):
            if val:
                put(ox + 187 + 127.9 * j, 1018 + 37 * r, val, size=14, ha="center")

    put(ox, 1106, p["chart_title"])
    put(ox, 1732, f"Sharpe ratio, {p['sharpe_name']} (Zinssatz 0,3%)")
    put(ox, 1787, p["sharpe"], size=27, color="#111111")

# ---- VA cash chart ----
ax = lower_ax(16)
d = to_dates(cash_days)
ax.fill_between(d, va_total_k, 0, color="#f2f2f2", lw=0, zorder=1)
ax.plot(d, va_total_k, color="#c0c0c0", lw=2.4, zorder=3)
ds = to_dates(cash_step_days)
ax.fill_between(ds, va_cash_k, 0, step="post", color="#d4e4d8", lw=0, zorder=1.5)
ax.plot(ds, va_cash_k, drawstyle="steps-post", color="#5b976b", lw=2.4, zorder=3)
grid_at(ax, [k * 10.16 for k in range(4)], (1.7, 1.4))
ax.set_ylim(-4.87, 40.2)
no_ticks(ax)
quarter_marks(ax, 0.958, 1.0, (6.5, 3.8))

# ---- performance comparison ----
ax = lower_ax(1871)
bar_days = np.linspace(bar_first_day, bar_last_day, len(diff_bars))
grid_at(ax, [0, 10, 20, 30], (1.7, 1.4))
ax.bar(to_dates(bar_days), diff_bars, width=0.75, color="#a8a8a8", zorder=1)
pd_dates = to_dates(perf_days)
ax.plot(pd_dates, dca_perf, color=RED, lw=2.3, zorder=3)
ax.plot(pd_dates, va_perf, color="#3e8b57", lw=2.3, zorder=3.1)
ax.set_ylim(-5.7, 31.8)
no_ticks(ax)
quarter_marks(ax, 0.958, 1.0, (6.5, 3.8))

fig.savefig("out.png", dpi=100, facecolor="white")
